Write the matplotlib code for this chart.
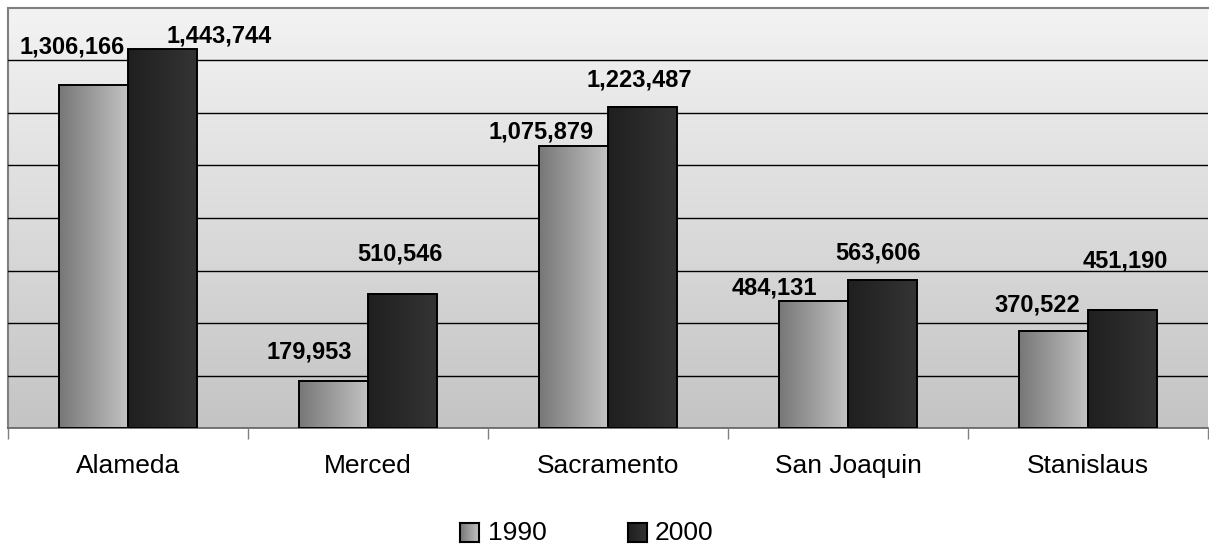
import numpy as np
import matplotlib
matplotlib.use("Agg")
import matplotlib.pyplot as plt
from matplotlib.colors import LinearSegmentedColormap

plt.rcParams["font.family"] = ["Liberation Sans", "DejaVu Sans"]

# data
counties = ["Alameda", "Merced", "Sacramento", "San Joaquin", "Stanislaus"]
years = ["1990", "2000"]
pop_1990 = [1306166, 179953, 1075879, 484131, 370522]
pop_2000 = [1443744, 510546, 1223487, 563606, 451190]

# label nudges in pixels (dx, dy above bar top), as placed in the original
nudge_1990 = [(-21, 32), (-24, 22), (-32, 7), (-39, 6), (-16, 19)]
nudge_2000 = [(57, 7), (-3, 33), (-3, 20), (-4, 21), (3, 42)]

cmap_1990 = LinearSegmentedColormap.from_list("g1990", ["#777777", "#c2c2c2"])
cmap_2000 = LinearSegmentedColormap.from_list("g2000", ["#1f1f1f", "#343434"])
cmap_bg = LinearSegmentedColormap.from_list("bg", ["#c4c4c4", "#f3f3f3"])

fig = plt.figure(figsize=(12.09, 5.46), dpi=100)
ax = fig.add_axes([8 / 1209, 118 / 546, 1200 / 1209, 420 / 546])

# background gradient
grad_v = np.linspace(0, 1, 256).reshape(-1, 1)
ax.imshow(grad_v, cmap=cmap_bg, origin="lower", aspect="auto",
          extent=(0, 1, 0, 1), transform=ax.transAxes, zorder=0)

x = np.arange(len(counties))
w = 0.2875
bars1 = ax.bar(x - w / 2, pop_1990, w, facecolor="none", edgecolor="black",
               linewidth=1.4, zorder=4)
bars2 = ax.bar(x + w / 2, pop_2000, w, facecolor="none", edgecolor="black",
               linewidth=1.4, zorder=4)

grad_h = np.linspace(0, 1, 256).reshape(1, -1)
for bars, cm in [(bars1, cmap_1990), (bars2, cmap_2000)]:
    for p in bars:
        ax.imshow(grad_h, cmap=cm, aspect="auto", zorder=3,
                  extent=(p.get_x(), p.get_x() + p.get_width(), 0, p.get_height()))

# data labels
for bars, vals, nudges in [(bars1, pop_1990, nudge_1990), (bars2, pop_2000, nudge_2000)]:
    for p, v, (dx, dy) in zip(bars, vals, nudges):
        ax.annotate(f"{v:,}", (p.get_x() + p.get_width() / 2, p.get_height()),
                    xytext=(dx, dy), textcoords="offset pixels",
                    ha="center", va="baseline", fontsize=17, fontweight="bold",
                    zorder=5)

ax.set_xlim(-0.5, len(counties) - 0.5)
ax.set_ylim(0, 1600000)
ax.set_yticks(np.arange(200000, 1600000, 200000))
ax.yaxis.grid(True, color="black", linewidth=1)
ax.set_axisbelow(False)
for gl in ax.get_ygridlines():
    gl.set_zorder(1)
ax.tick_params(axis="y", left=False, labelleft=False)

ax.set_xticks(x)
ax.set_xticklabels(counties, fontsize=19)
ax.set_xticks(np.arange(-0.5, len(counties), 1), minor=True)
ax.tick_params(axis="x", which="major", length=0, pad=19)
ax.tick_params(axis="x", which="minor", length=8, color="#808080", width=1)

for side in ["left", "top"]:
    ax.spines[side].set_color("#808080")
    ax.spines[side].set_linewidth(1.5)
ax.spines["right"].set_visible(False)
ax.spines["bottom"].set_color("#606060")
ax.spines["bottom"].set_linewidth(1.2)

# legend (swatches with gradient)
for (sx, tx), cm, label in [((460, 488), cmap_1990, years[0]), ((628, 655), cmap_2000, years[1])]:
    sw = fig.add_axes([sx / 1209, 4 / 546, 19 / 1209, 19 / 546])
    sw.imshow(grad_h, cmap=cm, aspect="auto", extent=(0, 1, 0, 1))
    sw.set_xticks([])
    sw.set_yticks([])
    for s in sw.spines.values():
        s.set_color("black")
        s.set_linewidth(1.5)
    fig.text(tx / 1209, 13.5 / 546, label, fontsize=19, ha="left", va="center")

fig.savefig("out.png", dpi=100)
